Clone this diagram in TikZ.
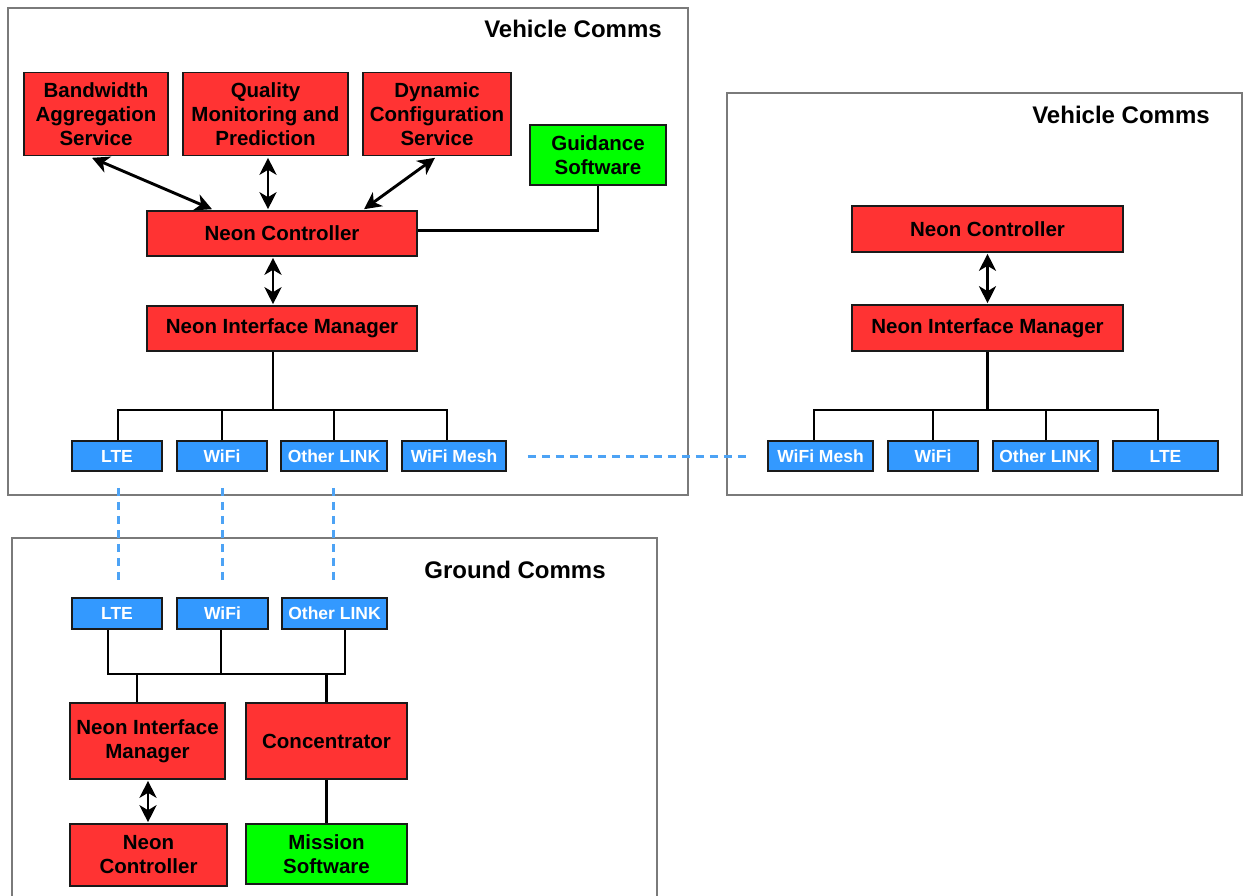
\documentclass[tikz,border=0pt]{standalone}
\usepackage{fontspec}
\setmainfont{Liberation Sans}
\usetikzlibrary{arrows.meta,calc}

\definecolor{modred}{HTML}{FF3333}
\definecolor{modgreen}{HTML}{00FF00}
\definecolor{linkblue}{HTML}{3399FF}
\definecolor{dashblue}{HTML}{4DA3F5}
\definecolor{framegray}{HTML}{7A7A7A}
\definecolor{edgedark}{HTML}{1A1A1A}

\tikzset{
  frame/.style={draw=framegray, line width=2.6pt},
  title/.style={font=\fontsize{24}{28}\selectfont\bfseries, inner sep=0pt},
  module/.style={draw=edgedark, line width=1.6pt, fill=modred, align=center,
    inner sep=0pt, font=\fontsize{20.5}{24}\selectfont\bfseries},
  software/.style={module, fill=modgreen},
  link/.style={draw=edgedark, line width=1.6pt, fill=linkblue, text=white,
    inner sep=0pt, minimum height=30pt, font=\fontsize{17.5}{20}\selectfont\bfseries},
  wire/.style={draw=black, line width=2.9pt},
  biarrow/.style={draw=black, line width=2.9pt,
    {Stealth[length=17pt,width=17pt,inset=5pt]}-{Stealth[length=17pt,width=17pt,inset=5pt]}},
  radio/.style={draw=dashblue, line width=3pt, dash pattern=on 8pt off 6pt}
}

\begin{document}
\begin{tikzpicture}[x=1pt,y=-1pt]
\useasboundingbox (0,0) rectangle (1244,895);

% ---------- group frames ----------
\draw[frame] (8,8) rectangle (688,495);
\node[title] (tA) at (573,29) {Vehicle Comms};
\draw[frame] (727,93) rectangle (1242,495);
\node[title] (tB) at (1121,115) {Vehicle Comms};
\draw[frame] (12,897) -- (12,538) -- (657,538) -- (657,897);
\node[title] (tC) at (515,570) {Ground Comms};

% ---------- first vehicle ----------
\node[module, minimum width=144pt, minimum height=83pt] (bw) at (96,114) {Bandwidth\\Aggregation\\Service};
\node[module, minimum width=165pt, minimum height=83pt] (qm) at (265.5,114) {Quality\\Monitoring and\\Prediction};
\node[module, minimum width=148pt, minimum height=83pt] (dc) at (437,114) {Dynamic\\Configuration\\Service};
\node[software, minimum width=136pt, minimum height=60pt] (gs) at (598,155) {Guidance\\Software};
\node[module, minimum width=270pt, minimum height=45pt] (nc1) at (282,233.5) {Neon Controller};
\node[module, minimum width=270pt, minimum height=45pt] (nim1) at (282,328.5) {Neon Interface Manager};
\node[link, minimum width=90pt] (lte1) at (117,456) {LTE};
\node[link, minimum width=90pt] (wifi1) at (222,456) {WiFi};
\node[link, minimum width=106pt] (oth1) at (334,456) {Other LINK};
\node[link, minimum width=104pt] (mesh1) at (454,456) {WiFi Mesh};

\draw[biarrow] ($(bw.south)+(-4,1.5)$) -- ($(nc1.north)+(-70,-1)$);
\draw[biarrow] ($(qm.south)+(2.5,1.5)$) -- ($(nc1.north)+(-14,-1)$);
\draw[biarrow] ($(dc.south)+(-2,1.5)$) -- ($(nc1.north)+(82,-1)$);
\draw[wire] (gs.south) |- ($(nc1.east)+(0,-3)$);
\draw[biarrow] ($(nc1.south)+(-9,1)$) -- ($(nim1.north)+(-9,-1)$);

\coordinate (bus1) at (273,410);
\draw[wire] ($(nim1.south)+(-9,0)$) -- (bus1);
\draw[wire, line join=miter] ($(lte1.north)+(1,0)$) |- (bus1);
\draw[wire] (wifi1.north) |- (bus1);
\draw[wire] (oth1.north) |- (bus1);
\draw[wire, line join=miter] ($(mesh1.north)+(-7,0)$) |- (bus1);

% ---------- second vehicle ----------
\node[module, minimum width=271pt, minimum height=46pt] (nc2) at (987.5,229) {Neon Controller};
\node[module, minimum width=271pt, minimum height=46pt] (nim2) at (987.5,328) {Neon Interface Manager};
\node[link, minimum width=105pt] (mesh2) at (820.5,456) {WiFi Mesh};
\node[link, minimum width=90pt] (wifi2) at (933,456) {WiFi};
\node[link, minimum width=105pt] (oth2) at (1045.5,456) {Other LINK};
\node[link, minimum width=105pt] (lte2) at (1165.5,456) {LTE};

\draw[biarrow] ($(nc2.south)+(0,1)$) -- ($(nim2.north)+(0,-1)$);
\coordinate (bus2) at (987.5,410);
\draw[wire] (nim2.south) -- (bus2);
\draw[wire, line join=miter] ($(mesh2.north)+(-6.5,0)$) |- (bus2);
\draw[wire] (wifi2.north) |- (bus2);
\draw[wire] ($(oth2.north)+(0.5,0)$) |- (bus2);
\draw[wire, line join=miter] ($(lte2.north)+(-7.5,0)$) |- (bus2);

% ---------- ground station ----------
\node[link, minimum width=90pt, minimum height=31pt] (lte3) at (117,613.5) {LTE};
\node[link, minimum width=91pt, minimum height=31pt] (wifi3) at (222.5,613.5) {WiFi};
\node[link, minimum width=105pt, minimum height=31pt] (oth3) at (334.5,613.5) {Other LINK};
\node[module, minimum width=155pt, minimum height=76pt] (nim3) at (147.5,741) {Neon Interface\\Manager};
\node[module, minimum width=161pt, minimum height=76pt] (conc) at (326.5,741) {Concentrator};
\node[module, minimum width=157pt, minimum height=62pt] (nc3) at (148.5,855) {Neon\\Controller};
\node[software, minimum width=161pt, minimum height=60pt] (ms) at (326.5,854) {Mission\\Software};

% ground bus: taps on the link boxes and on the two modules below
\coordinate (lte3tap) at ($(lte3.south)+(-9,0)$);
\coordinate (wifi3tap) at ($(wifi3.south)+(-1.5,0)$);
\coordinate (oth3tap) at ($(oth3.south)+(10.5,0)$);
\coordinate (nim3tap) at ($(nim3.north)+(-10.5,0)$);
\coordinate (bus3) at (221,674);
\draw[wire, line join=miter] (lte3tap) |- (bus3) -| (oth3tap);
\draw[wire] (wifi3tap) -- (wifi3tap |- bus3);
\draw[wire] (nim3tap) -- (nim3tap |- bus3);
\draw[wire] (conc.north) -- (conc.north |- bus3);
\draw[biarrow] ($(nim3.south)+(0.5,1)$) -- ($(nc3.north)+(-0.5,-1)$);
\draw[wire] (conc.south) -- (ms.north);

% ---------- radio links ----------
\coordinate (lte1foot) at ($(lte1.south)+(1,0)$);
\coordinate (oth1foot) at ($(oth1.south)+(-1,0)$);
\draw[radio, shorten <=21pt, shorten >=16pt] (mesh1.east) -- (mesh2.west);
\draw[radio, shorten <=16pt, shorten >=15pt] (lte1foot) -- (lte1foot |- lte3.north);
\draw[radio, shorten <=16pt, shorten >=15pt] (wifi1.south) -- (wifi1.south |- wifi3.north);
\draw[radio, shorten <=16pt, shorten >=15pt] (oth1foot) -- (oth1foot |- oth3.north);
\end{tikzpicture}
\end{document}
